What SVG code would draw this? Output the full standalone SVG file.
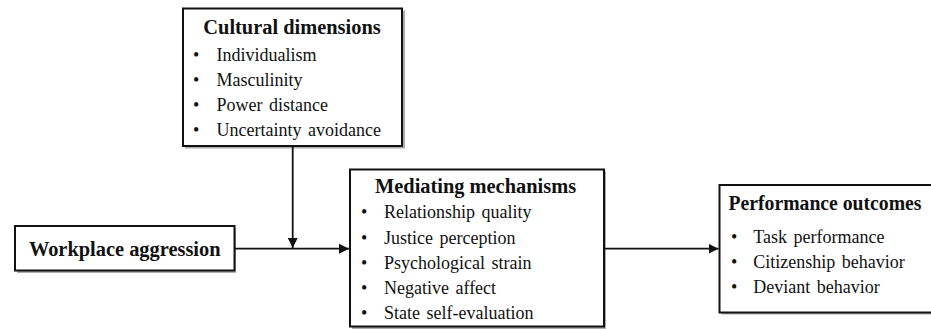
<svg xmlns="http://www.w3.org/2000/svg" width="931" height="329" viewBox="0 0 931 329">
<defs>
<style>
.box{fill:#fff;stroke:#111;stroke-width:2}
.shadow{fill:#8a8a8a;opacity:0.7}
.title{font-weight:bold;font-size:20.4px;fill:#111}
.item{font-size:18px;fill:#111;word-spacing:2px}
.edge{stroke:#111;stroke-width:1.8;fill:none}
</style>
<marker id="arr" viewBox="0 0 10 10" refX="10" refY="5" markerWidth="10" markerHeight="10" markerUnits="userSpaceOnUse" orient="auto">
<path d="M0,0 L10,5 L0,10 Z" fill="#111"/>
</marker>
</defs>
<rect width="931" height="329" fill="#fff"/>
<g font-family="'Liberation Serif', 'Times New Roman', Times, serif">
<g id="cultural">
<rect class="shadow" x="185" y="10.5" width="220" height="138"/>
<rect class="box" x="183" y="8.5" width="219" height="137.5"/>
<text class="title" x="292" y="33.5" text-anchor="middle">Cultural dimensions</text>
<text class="item" x="193" y="60.5">•</text><text class="item" x="216.5" y="60.5">Individualism</text>
<text class="item" x="193" y="86">•</text><text class="item" x="216.5" y="86">Masculinity</text>
<text class="item" x="193" y="111">•</text><text class="item" x="216.5" y="111">Power distance</text>
<text class="item" x="193" y="136">•</text><text class="item" x="216.5" y="136">Uncertainty avoidance</text>
</g>

<g id="aggression">
<rect class="shadow" x="17" y="228" width="219" height="45"/>
<rect class="box" x="15" y="226" width="219.5" height="44.5"/>
<text class="title" x="124.7" y="255.5" text-anchor="middle">Workplace aggression</text>
</g>

<g id="mediating">
<rect class="shadow" x="352" y="171.5" width="254" height="158"/>
<rect class="box" x="350" y="169.5" width="254" height="157"/>
<text class="title" x="375" y="192.5">Mediating mechanisms</text>
<text class="item" x="361" y="218.3">•</text><text class="item" x="384" y="218.3">Relationship quality</text>
<text class="item" x="361" y="243.5">•</text><text class="item" x="384" y="243.5">Justice perception</text>
<text class="item" x="361" y="268.7">•</text><text class="item" x="384" y="268.7">Psychological strain</text>
<text class="item" x="361" y="294">•</text><text class="item" x="384" y="294">Negative affect</text>
<text class="item" x="361" y="319">•</text><text class="item" x="384" y="319">State self-evaluation</text>
</g>

<g id="performance">
<rect class="shadow" x="721.5" y="187" width="220" height="127.5"/>
<rect class="box" x="719.5" y="185" width="220" height="127.5"/>
<text class="title" x="728.5" y="209.5" textLength="193" lengthAdjust="spacingAndGlyphs">Performance outcomes</text>
<text class="item" x="731" y="243.3">•</text><text class="item" x="753.3" y="243.3">Task performance</text>
<text class="item" x="731" y="268.3">•</text><text class="item" x="753.3" y="268.3">Citizenship behavior</text>
<text class="item" x="731" y="293.3">•</text><text class="item" x="753.3" y="293.3">Deviant behavior</text>
</g>
</g>
<g id="connectors">
<path class="edge" d="M292.7,146 L292.7,248" marker-end="url(#arr)"/>
<path class="edge" d="M234.5,248.7 L349,248.7" marker-end="url(#arr)"/>
<path class="edge" d="M604,248.7 L718.5,248.7" marker-end="url(#arr)"/>
</g>
</svg>
